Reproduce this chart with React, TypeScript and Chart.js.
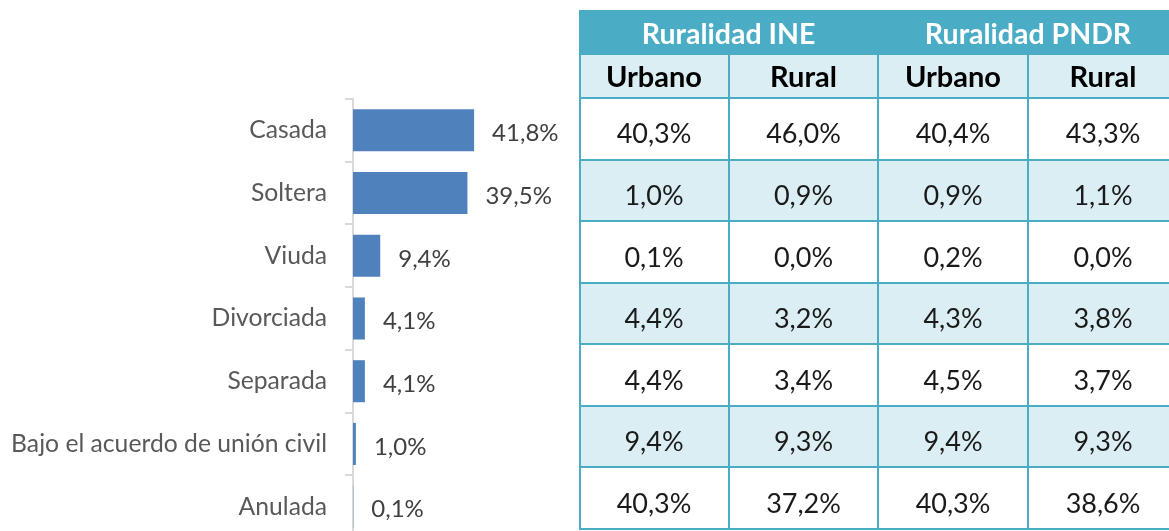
import React, { useEffect, useRef } from "react";
import { Chart, registerables } from "chart.js";

Chart.register(...registerables);

const categories = [
  "Casada",
  "Soltera",
  "Viuda",
  "Divorciada",
  "Separada",
  "Bajo el acuerdo de unión civil",
  "Anulada",
];
const shares = [41.8, 39.5, 9.4, 4.1, 4.1, 1.0, 0.1];

const groupHeaders = ["Ruralidad INE", "Ruralidad PNDR"];
const subHeaders = ["Urbano", "Rural", "Urbano", "Rural"];
const ineUrbano = [40.3, 1.0, 0.1, 4.4, 4.4, 9.4, 40.3];
const ineRural = [46.0, 0.9, 0.0, 3.2, 3.4, 9.3, 37.2];
const pndrUrbano = [40.4, 0.9, 0.2, 4.3, 4.5, 9.4, 40.3];
const pndrRural = [43.3, 1.1, 0.0, 3.8, 3.7, 9.3, 38.6];
const tableColumns = [ineUrbano, ineRural, pndrUrbano, pndrRural];

const fmt = (v: number) => v.toFixed(1).replace(".", ",") + "%";

const TEAL = "#4BACC6";
const LIGHT = "#DAEEF3";

const valueLabels = {
  id: "valueLabels",
  afterDatasetsDraw(chart: any) {
    const ctx = chart.ctx;
    const meta = chart.getDatasetMeta(0);
    ctx.save();
    ctx.font = "24px Lato";
    ctx.fillStyle = "#404040";
    ctx.textAlign = "left";
    ctx.textBaseline = "middle";
    meta.data.forEach((el: any, i: number) => {
      ctx.fillText(fmt(shares[i]), el.x + 18, el.y + 3);
    });
    ctx.restore();
  },
};

const tablePlugin = {
  id: "tablePlugin",
  afterDraw(chart: any) {
    const ctx = chart.ctx;
    const W = chart.width;
    const left = chart.chartArea.right;
    const colW = 150;
    const top = 10;
    const h1 = 55;
    const h2 = 98;
    const bottom = 529;
    const nRows = categories.length;
    const rowH = (bottom - h2) / nRows;
    const colX = [0, 1, 2, 3, 4].map((k) => left + k * colW - (k > 1 ? 1 : 0));
    ctx.save();
    ctx.fillStyle = TEAL;
    ctx.fillRect(left, top, W - left, h1 - top);
    ctx.fillStyle = LIGHT;
    ctx.fillRect(left, h1, W - left, h2 - h1);
    for (let r = 0; r < nRows; r++) {
      ctx.fillStyle = r % 2 === 1 ? LIGHT : "#FFFFFF";
      ctx.fillRect(left, h2 + r * rowH, W - left, rowH);
    }
    ctx.strokeStyle = TEAL;
    ctx.lineWidth = 2;
    ctx.beginPath();
    for (let r = 0; r <= nRows; r++) {
      const y = Math.round(h2 + r * rowH);
      ctx.moveTo(left, y);
      ctx.lineTo(W, y);
    }
    ctx.moveTo(left + 1, top);
    ctx.lineTo(left + 1, bottom);
    for (let k = 1; k < 4; k++) {
      ctx.moveTo(colX[k], h1);
      ctx.lineTo(colX[k], bottom);
    }
    ctx.stroke();
    ctx.textAlign = "center";
    ctx.textBaseline = "middle";
    ctx.fillStyle = "#FFFFFF";
    ctx.font = "bold 28.5px Lato";
    groupHeaders.forEach((g, gi) => {
      const cx = (colX[gi * 2] + colX[gi * 2 + 2]) / 2;
      ctx.fillText(g, cx, 35);
    });
    ctx.fillStyle = "#000000";
    ctx.font = "bold 29px Lato";
    subHeaders.forEach((s, k) => {
      ctx.fillText(s, (colX[k] + colX[k + 1]) / 2, 78);
    });
    ctx.fillStyle = "#1A1A1A";
    ctx.font = "27px Lato";
    tableColumns.forEach((col, k) => {
      col.forEach((v, r) => {
        ctx.fillText(fmt(v), (colX[k] + colX[k + 1]) / 2, h2 + r * rowH + rowH / 2 + 6);
      });
    });
    ctx.restore();
  },
};

export default function App() {
  const ref = useRef<HTMLCanvasElement | null>(null);
  useEffect(() => {
    if (!ref.current) return;
    const chart = new Chart(ref.current, {
      type: "bar",
      data: {
        labels: categories,
        datasets: [
          {
            data: shares,
            backgroundColor: "#4F81BD",
            categoryPercentage: 1,
            barPercentage: 0.67,
          },
        ],
      },
      options: {
        indexAxis: "y",
        responsive: false,
        animation: false,
        devicePixelRatio: 1,
        layout: { padding: { left: 0, top: 99, right: 590, bottom: 3 } },
        plugins: { legend: { display: false }, tooltip: { enabled: false } },
        scales: {
          x: { display: false, min: 0, max: 78 },
          y: {
            afterFit: (s: any) => {
              s.width = 353;
              s.paddingTop = 0;
              s.paddingBottom = 0;
            },
            ticks: {
              font: { family: "Lato", size: 24.7 },
              color: "#595959",
              padding: 18,
            },
            grid: {
              drawOnChartArea: false,
              color: "#D9D9D9",
              lineWidth: 2,
              tickLength: 8,
              offset: true,
            },
            border: { color: "#D9D9D9", width: 2 },
          },
        },
      },
      plugins: [valueLabels, tablePlugin],
    });
    return () => chart.destroy();
  }, []);
  return (
    <div
      style={{
        position: "fixed",
        left: 0,
        top: 0,
        width: 1169,
        height: 531,
        overflow: "hidden",
        background: "#FFFFFF",
      }}
    >
      <canvas ref={ref} width={1169} height={541} style={{ display: "block" }} />
    </div>
  );
}
